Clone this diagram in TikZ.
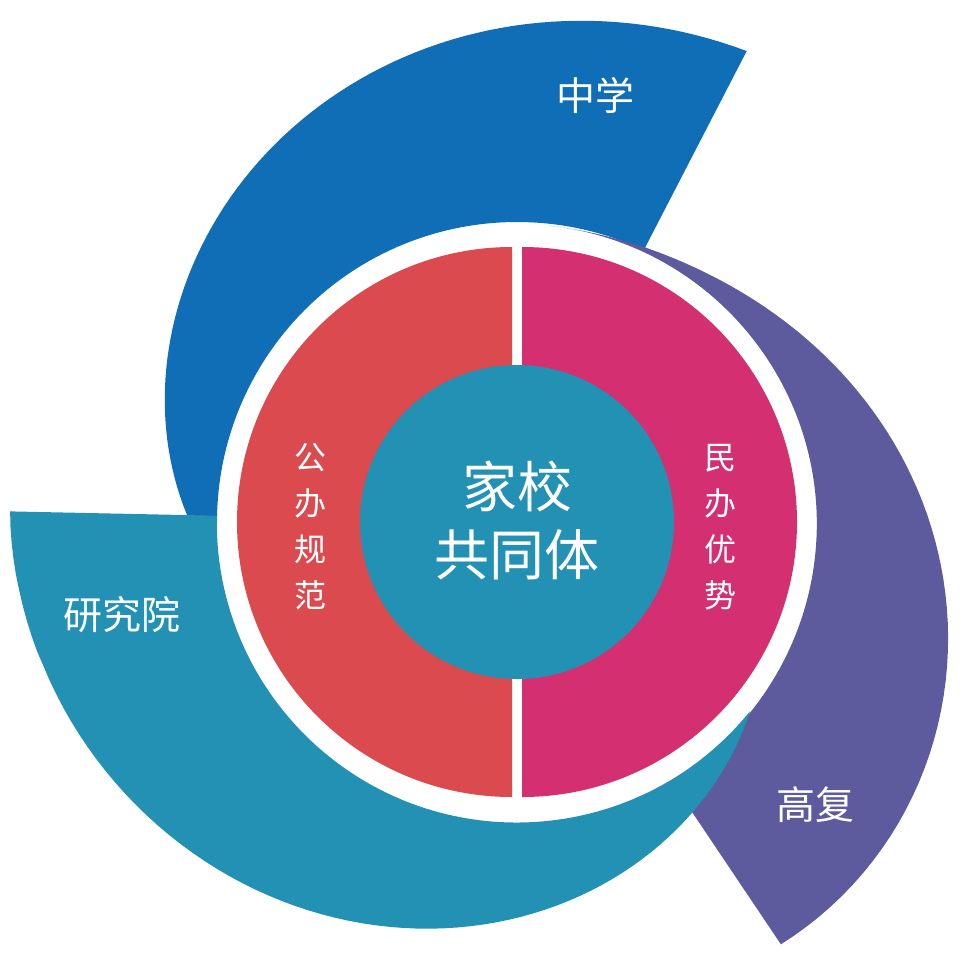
\documentclass[tikz,border=0pt]{standalone}
\usepackage{fontspec}
\newfontfamily\cjk{Noto Sans CJK SC}
\definecolor{zxblue}{HTML}{0F6EB5}
\definecolor{gfpurple}{HTML}{5E5A9E}
\definecolor{yjteal}{HTML}{2391B3}
\definecolor{gbred}{HTML}{DB4A4F}
\definecolor{mbpink}{HTML}{D42F70}
\begin{document}
\begin{tikzpicture}[
    x=1pt, y=1pt,
    outerlabel/.style={text=white, font=\cjk\fontsize{39}{44}\selectfont},
    ringlabel/.style={text=white, align=center, font=\cjk\fontsize{32}{46}\selectfont},
    centerlabel/.style={text=white, align=center, font=\cjk\fontsize{55}{68}\selectfont}
]
\useasboundingbox (0,0) rectangle (969,-962);

\begin{scope}[shift={(517,-522)}]
% outer spiral bands
\fill[zxblue] (180:300) arc[start angle=180, end angle=65, radius=300]
  -- plot[domain=0:1, samples=80] ({64+116*\x}:{524-100*\x-97*\x*\x}) -- cycle;
\fill[gfpurple] (84:298) arc[start angle=84, end angle=-59, radius=300]
  -- plot[domain=1:0, samples=80] ({84-142*\x}:{298+200*sin(90*\x^1.15)^2}) -- cycle;
\fill[yjteal] (178.8:302)
  -- plot[domain=0:1, samples=80] ({178.8+142.2*\x}:{507-207*\x^1.4})
  arc[start angle=321, end angle=178.8, radius=300] -- cycle;

% middle ring halves
\fill[gbred] (-5,275) arc[start angle=90, end angle=270, radius=275] -- cycle;
\fill[mbpink] (5,275) arc[start angle=90, end angle=-90, radius=275] -- cycle;

% centre
\fill[yjteal] (0,0) circle[radius=157];
\end{scope}

% labels
\node (zx) [outerlabel] at (595,-95) {中学};
\node (gf) [outerlabel] at (815,-805) {高复};
\node (yjy) [outerlabel] at (122,-615) {研究院};
\node (gb) [ringlabel] at (310,-527) {公\\办\\规\\范};
\node (mb) [ringlabel] at (720,-527) {民\\办\\优\\势};
\node (jx) [centerlabel] at (517,-520) {家校\\共同体};
\end{tikzpicture}
\end{document}
